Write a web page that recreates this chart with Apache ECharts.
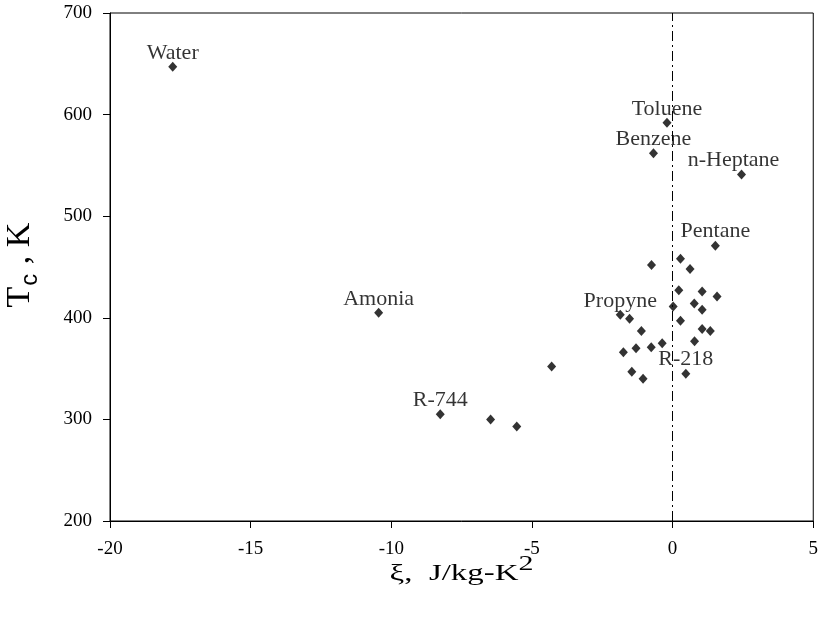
<!DOCTYPE html>
<html>
<head>
<meta charset="utf-8">
<script src="https://cdn.jsdelivr.net/npm/echarts@6/dist/echarts.min.js"></script>
<style>html,body{margin:0;padding:0;background:#fff}#c{width:821px;height:628px}</style>
</head>
<body>
<div id="c"></div>
<script>
// Data
var xiValues = [-17.77, -10.45, -8.26, -6.47, -5.54, -4.30, -0.20, -0.68, 2.45, 1.52,
  0.28, -0.75, 0.62, 0.22, 1.05, 1.58, 0.02, 0.77, 1.05, -1.86,
  -1.53, 0.28, -1.11, 1.05, 1.34, 0.78, -0.37, -0.76, -1.30, -1.75,
  -1.45, -1.05, 0.47];
var tcValues = [647, 405, 305, 300, 293, 352, 592, 562, 541, 471,
  458, 452, 448, 427, 426, 421, 411, 414, 408, 403,
  399, 397, 387, 389, 387, 377, 375, 371, 370, 366,
  347, 340, 345];
var fluidNames = ['Water', 'Amonia', 'R-744', '', '', '', 'Toluene', 'Benzene', 'n-Heptane', 'Pentane',
  '', '', '', '', '', '', '', '', '', 'Propyne',
  '', '', '', '', '', '', '', '', '', '',
  '', '', 'R-218'];
var xTicks = [-20, -15, -10, -5, 0, 5];
var yTicks = [200, 300, 400, 500, 600, 700];
var xTitle = 'ξ,  J/kg-K';
var xTitleSup = '2';

var serif = '"Liberation Serif", "Times New Roman", serif';
var pts = xiValues.map(function (x, i) {
  var d = { value: [x, tcValues[i]], name: fluidNames[i] };
  if (fluidNames[i] === 'n-Heptane') d.label = { offset: [-8, 0] };
  return d;
});

var chart = echarts.init(document.getElementById('c'));
chart.setOption({
  animation: false,
  backgroundColor: '#fff',
  grid: { left: 110, top: 13, right: 7, bottom: 107, show: true, borderColor: '#000', borderWidth: 1, backgroundColor: 'transparent' },
  xAxis: {
    type: 'value', min: xTicks[0], max: xTicks[xTicks.length - 1], interval: 5,
    splitLine: { show: false },
    axisLine: { onZero: false, lineStyle: { color: '#000', width: 1 } },
    axisTick: { show: true, length: 7, inside: false, lineStyle: { color: '#000' } },
    axisLabel: { color: '#000', fontFamily: serif, fontSize: 19, margin: 19 }
  },
  yAxis: {
    type: 'value', min: yTicks[0], max: yTicks[yTicks.length - 1], interval: 100,
    splitLine: { show: false },
    axisLine: { show: true, onZero: false, lineStyle: { color: '#000', width: 1 } },
    axisTick: { show: true, length: 7, inside: false, lineStyle: { color: '#000' } },
    axisLabel: { color: '#000', fontFamily: serif, fontSize: 19, margin: 18 }
  },
  graphic: [{
    type: 'text',
    x: 20.5, y: 265,
    rotation: Math.PI / 2,
    style: {
      text: '{t|T}{c|c}{t| , K}',
      align: 'center', verticalAlign: 'middle',
      rich: {
        t: { fontFamily: serif, fontSize: 34, fill: '#000', verticalAlign: 'middle' },
        c: { fontFamily: '"Liberation Sans", Arial, sans-serif', fontSize: 24, fill: '#000', verticalAlign: 'middle', padding: [19, 1, 0, 1] }
      }
    }
  }, {
    type: 'text',
    x: 461.5, y: 574,
    scaleX: 1.43,
    style: {
      text: '{a|' + xTitle + '}{s|' + xTitleSup + '}',
      align: 'center', verticalAlign: 'middle',
      rich: {
        a: { fontFamily: serif, fontSize: 23, fill: '#000', verticalAlign: 'middle' },
        s: { fontFamily: serif, fontSize: 21, fill: '#000', verticalAlign: 'middle', padding: [0, 0, 19, 0] }
      }
    }
  }],
  series: [{
    type: 'scatter',
    symbol: 'diamond',
    symbolSize: [9, 10],
    itemStyle: { color: '#000' },
    data: pts,
    label: {
      show: true, position: 'top', distance: -2,
      formatter: function (p) { return p.name; },
      fontFamily: serif, fontSize: 22, color: '#000'
    },
    markLine: {
      silent: true, symbol: 'none',
      label: { show: false },
      lineStyle: { color: '#000', width: 1, type: [10, 4, 2, 4] },
      data: [{ xAxis: 0 }]
    }
  }]
});
</script>
</body>
</html>
